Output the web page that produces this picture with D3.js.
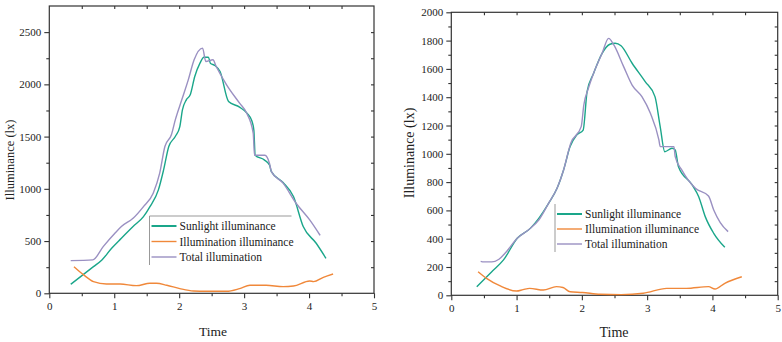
<!DOCTYPE html>
<html><head><meta charset="utf-8">
<script src="https://cdn.jsdelivr.net/npm/d3@7"></script>
<style>body{margin:0;background:#fff}svg{display:block}text{font-family:"Liberation Serif","Times New Roman",serif;fill:#222}</style>
</head><body><svg id="c" width="782" height="342"></svg>
<script>
// ---------- data ----------
const seriesNames = ["Sunlight illuminance","Illumination illuminance","Total illumination"];
const seriesColors = ["#1aa68a","#f0883a","#9a90c2"];
const xTicks = [0,1,2,3,4,5];
const leftYTicks = [0,500,1000,1500,2000,2500];
const rightYTicks = [0,200,400,600,800,1000,1200,1400,1600,1800,2000];

const leftSun = [[0.33,86],[0.68,255],[0.81,319],[0.96,431],[1.11,527],[1.29,639],[1.45,734],[1.55,830],[1.68,990],[1.76,1181],[1.84,1405],[1.94,1501],[2.01,1596],[2.05,1756],[2.11,1852],[2.17,1900],[2.24,2075],[2.32,2203],[2.38,2260],[2.45,2260],[2.48,2203],[2.55,2181],[2.63,2123],[2.76,1836],[2.93,1782],[3.05,1720],[3.12,1650],[3.15,1560],[3.17,1322],[3.31,1277],[3.39,1229],[3.42,1165],[3.6,1060],[3.76,926],[3.91,639],[4.11,479],[4.26,335]];
const leftIll = [[0.38,255],[0.53,176],[0.68,112],[0.88,89],[1.09,89],[1.34,73],[1.55,96],[1.65,96],[1.81,77],[2.01,45],[2.22,22],[2.42,19],[2.73,19],[2.93,45],[3.09,77],[3.34,77],[3.6,64],[3.76,70],[4.01,118],[4.07,112],[4.22,153],[4.37,185]];
const leftTot = [[0.33,313],[0.67,320],[0.83,447],[1.01,575],[1.11,639],[1.29,718],[1.45,830],[1.6,958],[1.7,1150],[1.78,1405],[1.88,1517],[1.94,1660],[2.04,1852],[2.14,2043],[2.23,2235],[2.36,2347],[2.41,2219],[2.52,2235],[2.57,2171],[2.73,1996],[2.93,1820],[3.04,1724],[3.14,1533],[3.16,1322],[3.32,1322],[3.39,1245],[3.42,1165],[3.6,1054],[3.8,862],[4.01,702],[4.17,555]];

const rightSun = [[0.39,61],[0.62,167],[0.8,250],[1.01,403],[1.21,473],[1.34,544],[1.49,650],[1.62,756],[1.72,886],[1.82,1051],[1.92,1133],[2.02,1168],[2.08,1439],[2.18,1569],[2.31,1710],[2.43,1774],[2.51,1781],[2.6,1764],[2.77,1640],[2.97,1510],[3.12,1404],[3.2,1192],[3.27,1015],[3.38,1039],[3.43,1027],[3.48,909],[3.69,780],[3.79,697],[3.89,556],[4.02,438],[4.19,339]];
const rightIll = [[0.41,167],[0.54,120],[0.75,66],[1.0,30],[1.1,40],[1.2,49],[1.41,37],[1.61,61],[1.71,55],[1.82,25],[2.01,20],[2.28,7],[2.6,5],[2.94,14],[3.3,49],[3.6,49],[3.94,61],[4.04,44],[4.19,85],[4.45,131]];
const rightTot = [[0.45,240],[0.5,236],[0.62,236],[0.73,255],[0.83,300],[1.01,403],[1.18,462],[1.34,532],[1.49,650],[1.62,756],[1.72,886],[1.83,1074],[1.99,1192],[2.03,1345],[2.1,1463],[2.18,1569],[2.31,1710],[2.41,1816],[2.49,1769],[2.64,1616],[2.77,1486],[2.92,1404],[3.05,1286],[3.18,1098],[3.2,1051],[3.41,1051],[3.43,980],[3.53,886],[3.74,756],[3.94,702],[4.02,603],[4.12,514],[4.24,450]];

// ---------- drawing ----------
const svg = d3.select("#c");

function chart(cfg){
  const g = svg.append("g");
  const x = d3.scaleLinear().domain([0,5]).range([cfg.x0,cfg.x1]);
  const y = d3.scaleLinear().domain([0,cfg.ymax]).range([cfg.y0,cfg.y1]);
  const ax = "#333";
  // frame
  g.append("rect").attr("x",cfg.x0).attr("y",cfg.y1).attr("width",cfg.x1-cfg.x0).attr("height",cfg.y0-cfg.y1)
    .attr("fill","none").attr("stroke",ax).attr("stroke-width",1.2);
  // y major ticks
  const ya = d3.axisLeft(y).tickValues(cfg.yTicks).tickSize(5).tickPadding(3).tickFormat(d3.format("d"));
  const yg = g.append("g").attr("transform",`translate(${cfg.x0},0)`).call(ya);
  const ym = d3.axisLeft(y).tickValues(d3.range(cfg.yMinorStep, cfg.ymax, cfg.yMinorStep*2)).tickSize(3).tickFormat("");
  g.append("g").attr("transform",`translate(${cfg.x0},0)`).call(ym);
  // x ticks
  const xa = d3.axisBottom(x).tickValues(xTicks).tickSize(5).tickPadding(4).tickFormat(d3.format("d"));
  g.append("g").attr("transform",`translate(0,${cfg.y0})`).call(xa);
  const xm = d3.axisBottom(x).tickValues([0.5,1.5,2.5,3.5,4.5]).tickSize(3).tickFormat("");
  g.append("g").attr("transform",`translate(0,${cfg.y0})`).call(xm);
  // top & right inward ticks
  const xt = d3.axisBottom(x).tickValues(d3.range(0.5,5,0.5)).tickSize(3).tickFormat("");
  g.append("g").attr("transform",`translate(0,${cfg.y1})`).call(xt);
  const yr = d3.axisLeft(y).tickValues(d3.range(cfg.yMinorStep, cfg.ymax, cfg.yMinorStep)).tickSize(3).tickFormat("");
  g.append("g").attr("transform",`translate(${cfg.x1},0)`).call(yr);
  g.selectAll(".domain").remove();
  g.selectAll(".tick line").attr("stroke",ax).attr("stroke-width",1.1);
  g.selectAll(".tick text").attr("font-size",11).attr("fill","#222").style("font-family","'Liberation Serif',serif");

  const line = d3.line().x(d=>x(d[0])).y(d=>y(d[1])).curve(d3.curveMonotoneX);
  cfg.series.forEach((s,i)=>{
    g.append("path").datum(s).attr("d",line).attr("fill","none").attr("stroke",seriesColors[i]).attr("stroke-width",1.4);
  });
  // legend
  const lg = g.append("g");
  lg.append("line").attr("x1",cfg.lx).attr("x2",cfg.lx).attr("y1",cfg.ly-10).attr("y2",cfg.ly+cfg.lstep*2+8).attr("stroke","#999").attr("stroke-width",1);
  if(cfg.ltop) lg.append("line").attr("x1",cfg.lx).attr("x2",cfg.lx+cfg.lw).attr("y1",cfg.ly-10).attr("y2",cfg.ly-10).attr("stroke","#999").attr("stroke-width",1);
  seriesNames.forEach((n,i)=>{
    const yy = cfg.ly + i*cfg.lstep;
    lg.append("line").attr("x1",cfg.lx+2).attr("x2",cfg.lx+27).attr("y1",yy).attr("y2",yy).attr("stroke",seriesColors[i]).attr("stroke-width",i===0?2:1.4);
    lg.append("text").attr("x",cfg.lx+30).attr("y",yy+4).attr("font-size",11.5).text(n);
  });
  // axis titles
  g.append("text").attr("x",cfg.tx).attr("y",cfg.ty).attr("text-anchor","middle").attr("font-size",cfg.tfs).text("Time");
  g.append("text").attr("transform",`translate(${cfg.yx},${cfg.yy}) rotate(-90)`).attr("text-anchor","middle").attr("font-size",cfg.yfs).text("Illuminance (lx)");
}

chart({x0:49.3,x1:374,y0:293.3,y1:6,ymax:2750,yTicks:leftYTicks,yMinorStep:250,series:[leftSun,leftIll,leftTot],
  lx:149.5,ly:226,lstep:15.5,lw:142,ltop:true,tx:213,ty:336,tfs:13.5,yx:14,yy:160,yfs:12.5});
chart({x0:451.3,x1:777.7,y0:295.3,y1:12.3,ymax:2000,yTicks:rightYTicks,yMinorStep:100,series:[rightSun,rightIll,rightTot],
  lx:555,ly:214,lstep:15,lw:0,ltop:false,tx:614,ty:337,tfs:14,yx:414,yy:153,yfs:14});
</script></body></html>
